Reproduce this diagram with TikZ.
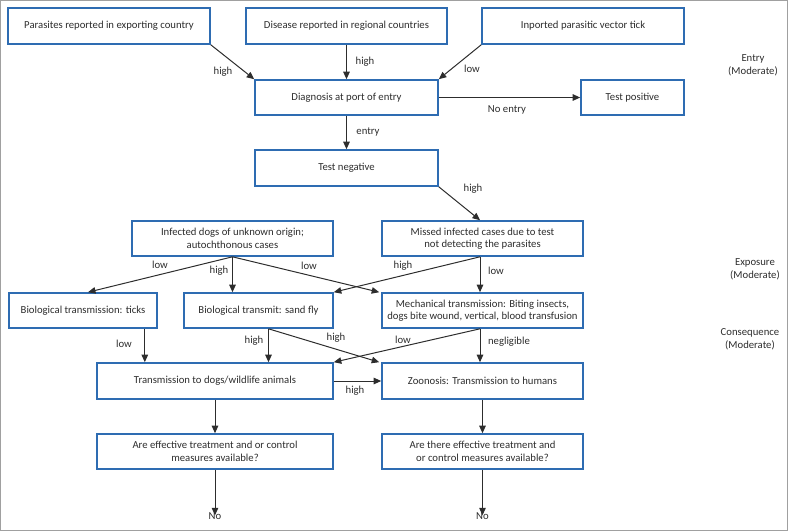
\documentclass[tikz,border=0pt]{standalone}
\usepackage{fontspec}
\setmainfont{Carlito}
\usetikzlibrary{arrows.meta,calc}
\definecolor{boxblue}{RGB}{46,108,178}
\definecolor{arrowgray}{RGB}{45,45,45}
\definecolor{textgray}{RGB}{45,45,45}
\definecolor{framegray}{RGB}{160,160,160}
\tikzset{
  box/.style={draw=boxblue, line width=1.6pt, rectangle, inner sep=0pt, align=center, text=textgray, font=\fontsize{10.7}{12.6}\selectfont},
  arr/.style={draw=arrowgray, line width=1pt, -{Triangle[length=7.5pt,width=6.5pt]}},
  lbl/.style={text=textgray, inner sep=0pt, font=\fontsize{10.7}{12.6}\selectfont},
  side/.style={text=textgray, inner sep=0pt, align=center, font=\fontsize{10.7}{13}\selectfont}
}
\begin{document}
\begin{tikzpicture}[x=1pt,y=-1pt]
\useasboundingbox (0,0) rectangle (788,531);
\draw[framegray, line width=1pt] (0.5,0.5) rectangle (787.5,530.5);
% boxes
\node[box, minimum width=202pt, minimum height=36pt] (par) at (109,26) {Parasites reported in exporting country};
\node[box, minimum width=201pt, minimum height=36pt] (dis) at (346.5,26) {Disease reported in regional countries};
\node[box, minimum width=202pt, minimum height=36pt] (inp) at (583,26) {Inported parasitic vector tick};
\node[box, minimum width=183pt, minimum height=35pt] (diag) at (346.5,97.5) {Diagnosis at port of entry};
\node[box, minimum width=103pt, minimum height=35pt] (pos) at (632.5,97.5) {Test positive};
\node[box, minimum width=183pt, minimum height=36pt] (neg) at (346.5,168) {Test negative};
\node[box, minimum width=201pt, minimum height=35pt] (inf) at (232.5,238.5) {Infected dogs of unknown origin;\\autochthonous cases};
\node[box, minimum width=201pt, minimum height=35pt] (mis) at (482.5,238.5) {Missed infected cases due to test\\not detecting the parasites};
\node[box, minimum width=148pt, minimum height=35pt] (tic) at (83,310.5) {Biological transmission: ticks};
\node[box, minimum width=149pt, minimum height=35pt] (san) at (258.5,310.5) {Biological transmit: sand fly};
\node[box, minimum width=201pt, minimum height=35pt] (mec) at (482.5,310.5) {Mechanical transmission: Biting insects,\\dogs bite wound, vertical, blood transfusion};
\node[box, minimum width=236pt, minimum height=36pt] (tra) at (215,381) {Transmission to dogs/wildlife animals};
\node[box, minimum width=201pt, minimum height=36pt] (zoo) at (482.5,381) {Zoonosis: Transmission to humans};
\node[box, minimum width=236pt, minimum height=35pt] (eff) at (215,451.5) {Are effective treatment and or control\\measures available?};
\node[box, minimum width=201pt, minimum height=35pt] (the) at (482.5,451.5) {Are there effective treatment and\\or control measures available?};
\node[lbl] (no1) at (215,516) {No};
\node[lbl] (no2) at (482.5,516) {No};
% side labels
\node[side] (sEntry) at (753,65) {Entry\\(Moderate)};
\node[side] (sExp) at (755,269) {Exposure\\(Moderate)};
\node[side] (sCon) at (750,339) {Consequence\\(Moderate)};
% arrows
\draw[arr] (par.south east) -- (diag.north west);
\draw[arr] (dis.south) -- (diag.north);
\draw[arr] (inp.south west) -- (diag.north east);
\draw[arr] (diag.east) -- (pos.west);
\draw[arr] (diag.south) -- (neg.north);
\draw[arr] (neg.south east) -- ([xshift=-2.5pt]mis.north);
\draw[arr] (inf.south) -- ([xshift=5pt]tic.north);
\draw[arr] (inf.south) -- (inf.south |- san.north);
\draw[arr] (inf.south) -- ([xshift=-2pt]mec.north west);
\draw[arr] ([xshift=-2.5pt]mis.south) -- (san.north east);
\draw[arr] ([xshift=-2.5pt]mis.south) -- ([xshift=-2.5pt]mec.north);
\draw[arr] ([xshift=-13pt]tic.south east) -- ([xshift=-13pt]tic.south east |- tra.north);
\draw[arr] ([xshift=10pt]san.south) -- ([xshift=10pt]san.south |- tra.north);
\draw[arr] ([xshift=10pt]san.south) -- ([xshift=-2pt]zoo.north west);
\draw[arr] ([xshift=-2.5pt]mec.south) -- (tra.north east);
\draw[arr] ([xshift=-2.5pt]mec.south) -- ([xshift=-2.5pt]zoo.north);
\draw[arr] (tra.east) -- (zoo.west);
\draw[arr] (tra.south) -- (eff.north);
\draw[arr] (zoo.south) -- (the.north);
\draw[arr] (eff.south) -- ([yshift=-3pt]no1.north);
\draw[arr] (the.south) -- ([yshift=-3pt]no2.north);
% arrow labels
\node[lbl] (l1) at (223,72) {high};
\node[lbl] (l2) at (365,62) {high};
\node[lbl] (l3) at (472,69) {low};
\node[lbl] (l4) at (507,110) {No entry};
\node[lbl] (l5) at (368,132) {entry};
\node[lbl] (l6) at (473,189) {high};
\node[lbl] (l7) at (160,265) {low};
\node[lbl] (l8) at (219,271) {high};
\node[lbl] (l9) at (309,266) {low};
\node[lbl] (l10) at (403,266) {high};
\node[lbl] (l11) at (496,271) {low};
\node[lbl] (l12) at (124,344) {low};
\node[lbl] (l13) at (254,341) {high};
\node[lbl] (l14) at (336,338) {high};
\node[lbl] (l15) at (403,340) {low};
\node[lbl] (l16) at (509,342) {negligible};
\node[lbl] (l17) at (355,391) {high};
\end{tikzpicture}
\end{document}
